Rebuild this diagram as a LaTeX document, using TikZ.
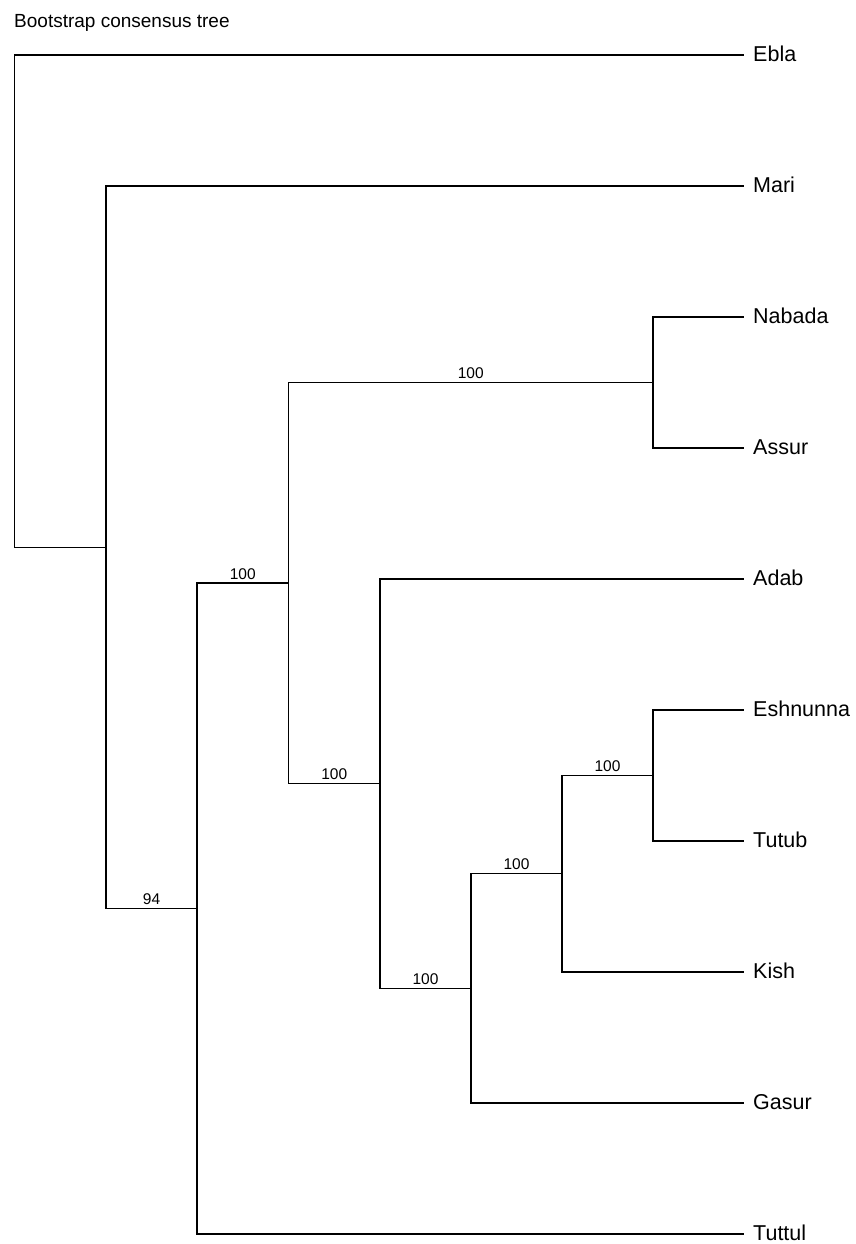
\documentclass[tikz,border=0pt]{standalone}
\usepackage{fontspec}
\setmainfont{Liberation Sans}
\begin{document}
\begin{tikzpicture}[x=1pt,y=-1pt,
  branch/.style={line width=1.4pt, line join=miter},
  tiplabel/.style={anchor=base west, inner sep=0pt, font=\fontsize{21.5}{24}\selectfont},
  boot/.style={anchor=base, inner sep=0pt, font=\fontsize{15.5}{18}\selectfont},
  heading/.style={anchor=base west, inner sep=0pt, font=\fontsize{19}{22}\selectfont}]
  \useasboundingbox (0,0) rectangle (855,1244);

  \node[heading] (title) at (14,28) {Bootstrap consensus tree};

  % tips
  \coordinate (Ebla)     at (744,55);
  \coordinate (Mari)     at (744,186);
  \coordinate (Nabada)   at (744,317);
  \coordinate (Assur)    at (744,448);
  \coordinate (Adab)     at (744,579);
  \coordinate (Eshnunna) at (744,710);
  \coordinate (Tutub)    at (744,841);
  \coordinate (Kish)     at (744,972);
  \coordinate (Gasur)    at (744,1103);
  \coordinate (Tuttul)   at (744,1234);

  % internal nodes
  \coordinate (root) at (14.5,301.2);
  \coordinate (nM)   at (106,547.3);
  \coordinate (nT)   at (197,908.6);
  \coordinate (nAll) at (288.5,583.1);
  \coordinate (nNA)  at (653,382.5);
  \coordinate (nA)   at (380,783.7);
  \coordinate (nG)   at (471,988.4);
  \coordinate (nK)   at (562,873.75);
  \coordinate (nET)  at (653,775.5);

  % branches
  \draw[branch] (root) |- (Ebla)  (root) |- (nM);
  \draw[branch] (nM)   |- (Mari)  (nM)   |- (nT);
  \draw[branch] (nT)   |- (nAll)  (nT)   |- (Tuttul);
  \draw[branch] (nAll) |- (nNA)   (nAll) |- (nA);
  \draw[branch] (nNA)  |- (Nabada) (nNA) |- (Assur);
  \draw[branch] (nA)   |- (Adab)  (nA)   |- (nG);
  \draw[branch] (nG)   |- (nK)    (nG)   |- (Gasur);
  \draw[branch] (nK)   |- (nET)   (nK)   |- (Kish);
  \draw[branch] (nET)  |- (Eshnunna) (nET) |- (Tutub);

  % tip labels
  \foreach \t in {Ebla,Mari,Nabada,Assur,Adab,Eshnunna,Tutub,Kish,Gasur,Tuttul}
    \node[tiplabel] (l\t) at ([xshift=9pt,yshift=-6.7pt]\t) {\t};

  % bootstrap support
  \node[boot] (bNA)  at (470.75,378.5) {100};
  \node[boot] (bAll) at (242.75,579.1) {100};
  \node[boot] (bA)   at (334.25,779.7) {100};
  \node[boot] (bG)   at (425.5,984.4)  {100};
  \node[boot] (bK)   at (516.5,869.75) {100};
  \node[boot] (bET)  at (607.5,771.5)  {100};
  \node[boot] (bT)   at (151.5,904.6)  {94};
\end{tikzpicture}
\end{document}
